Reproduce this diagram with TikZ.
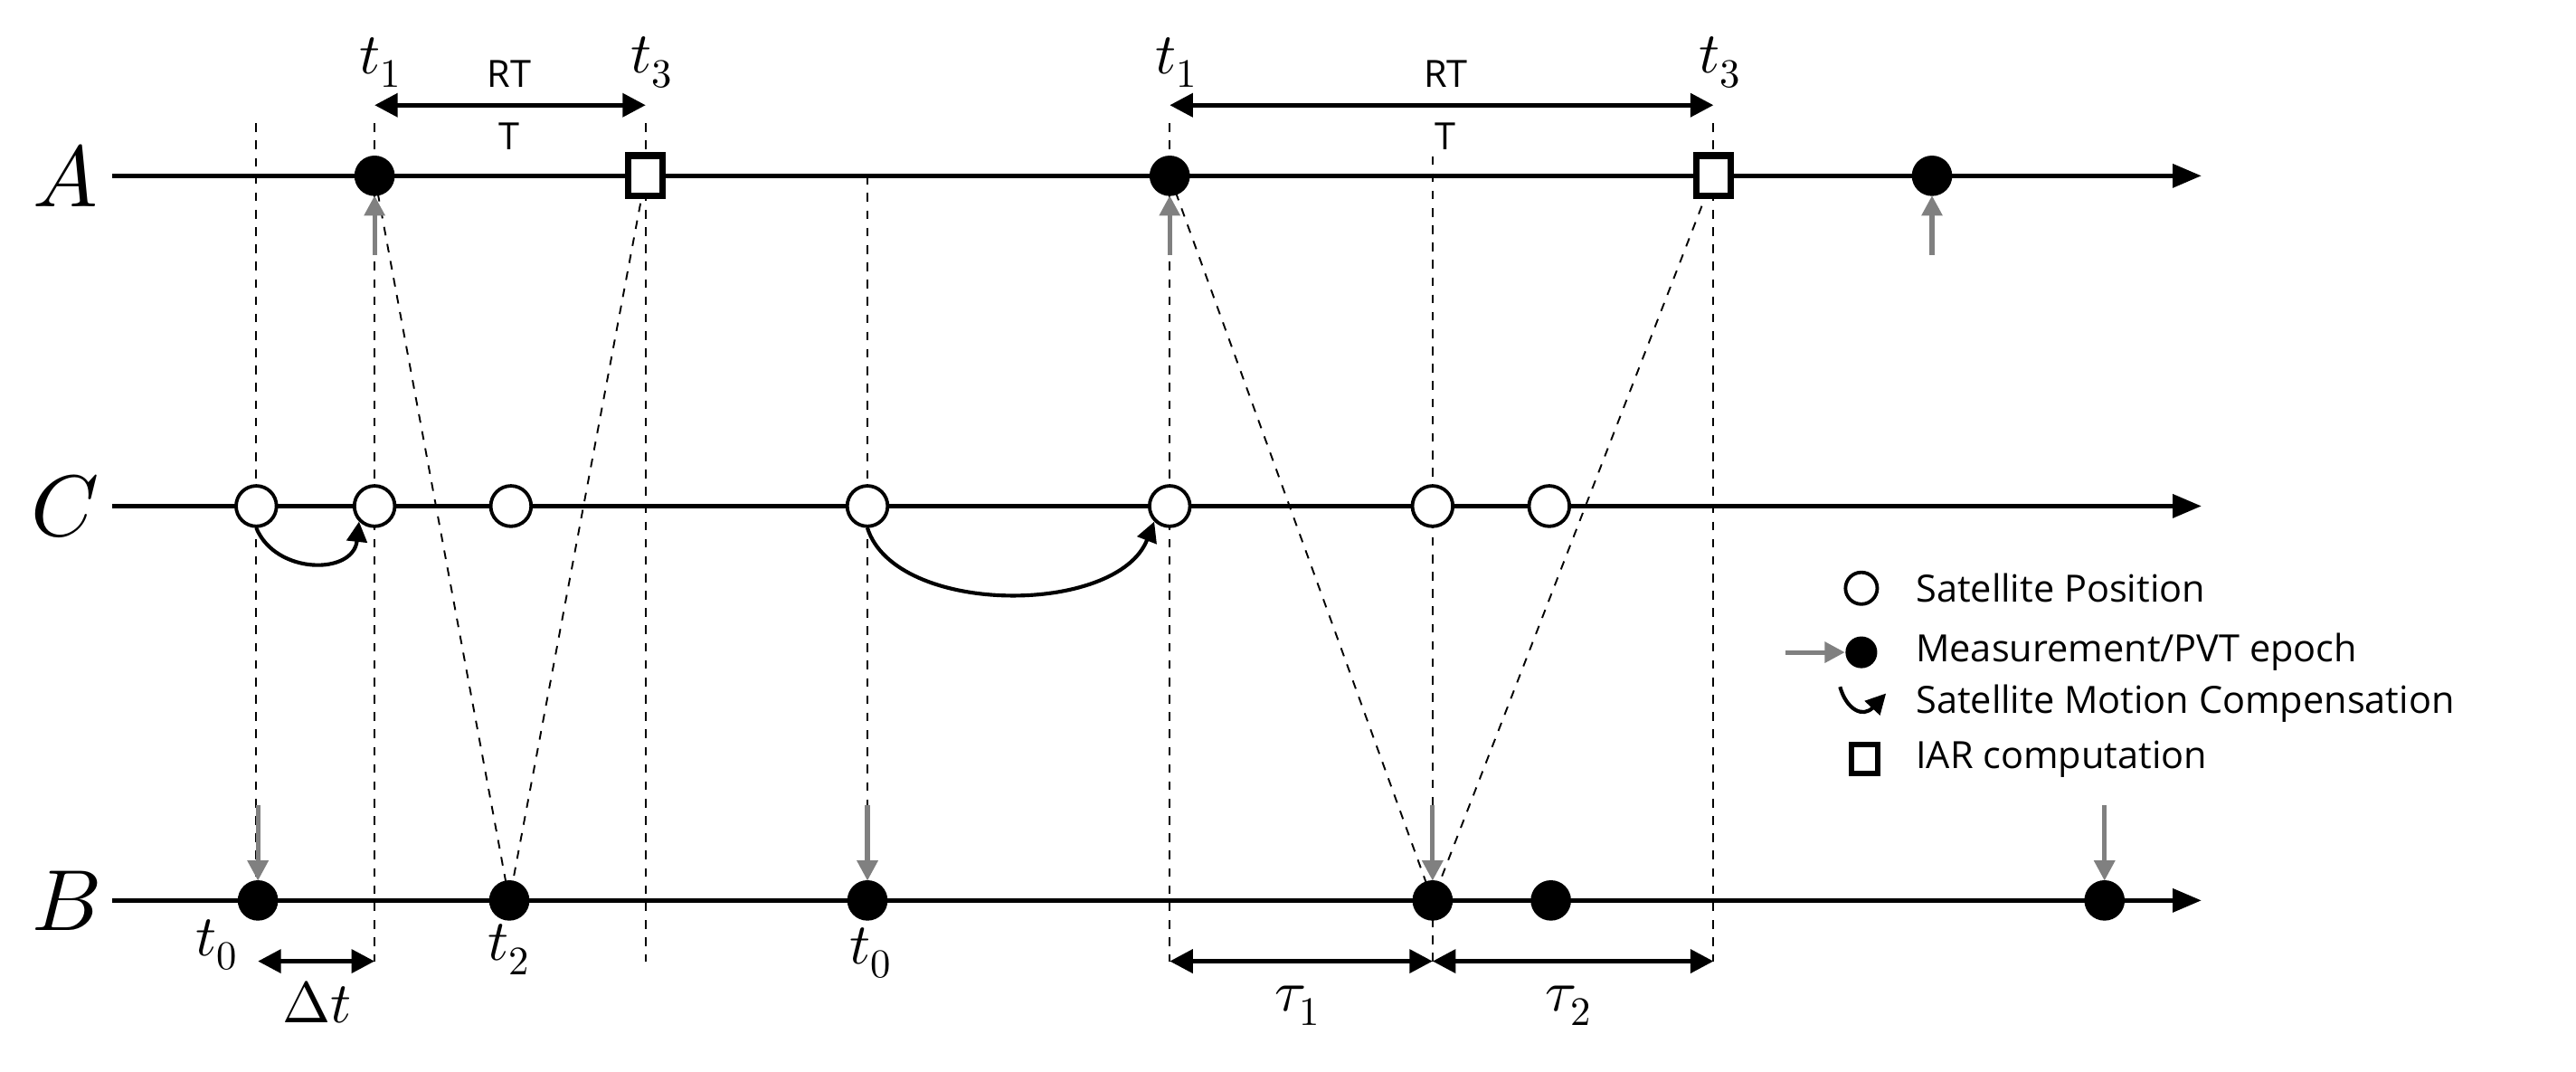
\documentclass[tikz,border=0pt]{standalone}
\usepackage{fontspec}
\setmainfont{Open Sans}
\usepackage{unicode-math}
\usetikzlibrary{arrows.meta}
\begin{document}
\begin{tikzpicture}[x=0.02cm,y=-0.02cm,
  axis/.style={line width=1.6pt,-{Triangle[length=10pt,width=8pt]}},
  dot/.style={circle,fill=black,inner sep=0pt,minimum width=14pt,minimum height=14pt},
  hollow/.style={circle,draw=black,line width=1.2pt,fill=white,inner sep=0pt,minimum width=14pt,minimum height=14pt},
  sq/.style={draw=black,line width=2.2pt,fill=white,inner sep=0pt,minimum width=12pt,minimum height=14pt},
  dsh/.style={dashed,line width=0.6pt},
  gar/.style={gray,line width=1.6pt,-{Triangle[length=7pt,width=7pt]}},
  dim/.style={line width=1.6pt,{Triangle[length=8pt,width=8pt]}-{Triangle[length=8pt,width=8pt]}},
  lbl/.style={font=\fontsize{13}{15}\selectfont},
  tl/.style={font=\fontsize{20}{22}\selectfont},
  big/.style={font=\fontsize{30}{32}\selectfont}]
\useasboundingbox (0,0) rectangle (1568,652);
% dashed verticals
\coordinate (v1t) at (156,75); \coordinate (v1b) at (156,548);
\draw[dsh] (v1t) -- (v1b);
\draw[dsh] (228,75) -- (228,585);
\draw[dsh] (393,75) -- (393,585);
\draw[dsh] (528,107) -- (528,548);
\draw[dsh] (712,75) -- (712,585);
\draw[dsh] (872,95) -- (872,585);
\draw[dsh] (1043,75) -- (1043,585);
% axes
\coordinate (As) at (68,107); \coordinate (Ae) at (1340,107);
\coordinate (Cs) at (68,308); \coordinate (Ce) at (1340,308);
\coordinate (Bs) at (68,548); \coordinate (Be) at (1340,548);
\draw[axis] (As) -- (Ae);
\draw[axis] (Cs) -- (Ce);
\draw[axis] (Bs) -- (Be);
\node[big] (la) at (40,107) {$A$};
\node[big] (lc) at (40,308) {$C$};
\node[big] (lb) at (40,548) {$B$};
% diagonal dashed
\coordinate (a1) at (228,107); \coordinate (b2) at (310,548); \coordinate (a3) at (393,107);
\coordinate (a4) at (712,107); \coordinate (b5) at (872,548); \coordinate (a6) at (1043,107);
\draw[dsh] (a1) -- (b2) -- (a3);
\draw[dsh] (a4) -- (b5) -- (a6);
% A nodes
\node[dot] (A1) at (228,107) {};
\node[sq] (A2) at (393,107) {};
\node[dot] (A3) at (712,107) {};
\node[sq] (A4) at (1043,107) {};
\node[dot] (A5) at (1176,107) {};
\foreach \x/\n in {228/a,712/b,1176/c}{
  \coordinate (ga\n) at (\x,155);
  \draw[gar] (ga\n) -- (\x,119);
}
% C nodes
\foreach \x/\n in {156/1,228/2,311/3,528/4,712/5,872/6,943/7}{
  \node[hollow] (C\n) at (\x,308) {};
}
\draw[line width=1.3pt,-{Triangle[length=7pt,width=7pt]}] (C1.south) .. controls (168,350) and (215,350) .. (C2.south west);
\draw[line width=1.3pt,-{Triangle[length=7pt,width=7pt]}] (C4.south) .. controls (545,375) and (680,375) .. (C5.south west);
% B nodes
\foreach \x/\n in {157/1,310/2,528/3,872/4,944/5,1281/6}{
  \node[dot] (B\n) at (\x,548) {};
}
\foreach \x/\n in {157/a,528/b,872/c,1281/d}{
  \coordinate (gb\n) at (\x,490);
  \draw[gar] (gb\n) -- (\x,536);
}
% top dims
\coordinate (d1) at (228,64); \coordinate (d2) at (393,64);
\coordinate (d3) at (712,64); \coordinate (d4) at (1043,64);
\draw[dim] (d1) -- (d2);
\draw[dim] (d3) -- (d4);
\node[lbl] (rt1) at (310,45) {RT};
\node[lbl] (tt1) at (310,83) {T};
\node[lbl] (rt2) at (880,45) {RT};
\node[lbl] (tt2) at (880,83) {T};
\node[tl] (t1a) at (232,38) {$t_1$};
\node[tl] (t3a) at (397,38) {$t_3$};
\node[tl] (t1b) at (716,38) {$t_1$};
\node[tl] (t3b) at (1047,38) {$t_3$};
% bottom dims
\coordinate (e1) at (157,585); \coordinate (e2) at (228,585);
\coordinate (e3) at (712,585); \coordinate (e4) at (872,585); \coordinate (e5) at (1043,585);
\draw[dim] (e1) -- (e2);
\draw[dim] (e3) -- (e4);
\draw[dim] (e4) -- (e5);
\node[tl] (t0a) at (132,575) {$t_0$};
\node[tl] (dt) at (193,610) {$\Delta t$};
\node[tl] (t2) at (310,578) {$t_2$};
\node[tl] (t0b) at (530,580) {$t_0$};
\node[tl] (tau1) at (790,612) {$\tau_1$};
\node[tl] (tau2) at (955,612) {$\tau_2$};
% legend
\node[hollow,minimum width=11pt,minimum height=11pt] (L1) at (1133,358) {};
\node[lbl,anchor=west] (L1t) at (1160,358) {Satellite Position};
\node[dot,minimum width=11pt,minimum height=11pt] (L2) at (1133,397) {};
\coordinate (L2a) at (1087,397);
\draw[gar] (L2a) -- (L2.west);
\node[lbl,anchor=west] (L2t) at (1160,397) {Measurement/PVT epoch};
\coordinate (L3a) at (1120,418); \coordinate (L3b) at (1148,422);
\draw[line width=1.3pt,-{Triangle[length=7pt,width=7pt]}] (L3a) .. controls (1124,432) and (1134,437) .. (L3b);
\node[lbl,anchor=west] (L3t) at (1160,428) {Satellite Motion Compensation};
\node[sq,minimum width=9pt,minimum height=10pt,line width=2pt] (L4) at (1135,462) {};
\node[lbl,anchor=west] (L4t) at (1160,462) {IAR computation};
\end{tikzpicture}
\end{document}
